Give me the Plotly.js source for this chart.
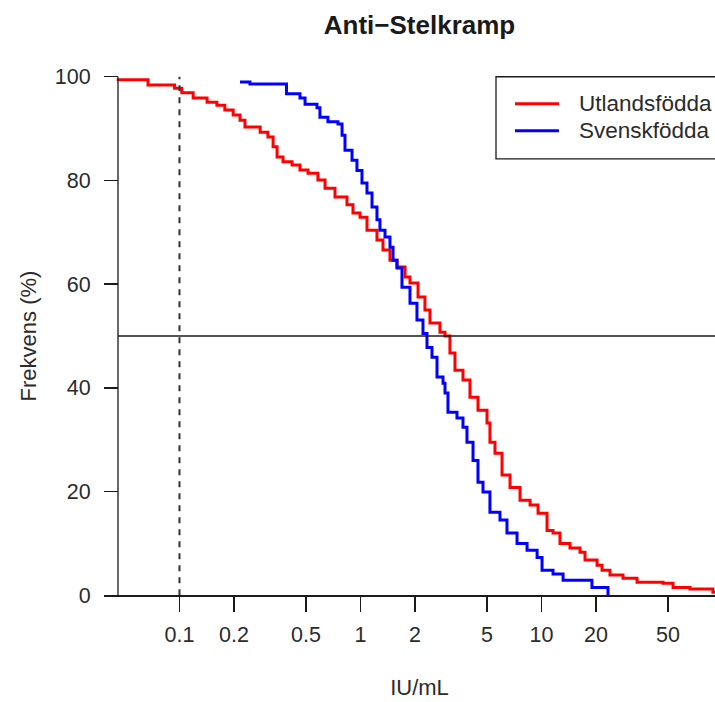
<!DOCTYPE html>
<html>
<head>
<meta charset="utf-8">
<script src="https://cdn.plot.ly/plotly-3.0.1.min.js"></script>
<style>
  html, body { margin: 0; padding: 0; overflow: hidden; background: #fff; }
  #chart { width: 740px; height: 702px; }
</style>
</head>
<body>
<div id="chart"></div>
<script>
// Survival-type curves: share of each group (%) with antibody level above a given IU/mL
const utlandsIU = [0.045, 0.067, 0.094, 0.103, 0.119, 0.142, 0.161, 0.178, 0.198, 0.216, 0.230, 0.279, 0.308, 0.329, 0.346, 0.373, 0.419, 0.463, 0.513, 0.582, 0.637, 0.723, 0.842, 0.909, 0.994, 1.086, 1.233, 1.331, 1.455, 1.591, 1.763, 1.877, 2.079, 2.270, 2.420, 2.748, 2.930, 3.120, 3.326, 3.683, 4.025, 4.458, 5.000, 5.190, 5.533, 6.053, 6.700, 7.610, 8.646, 9.57, 10.73, 11.58, 12.65, 14.37, 16.32, 17.39, 20.27, 21.6, 23.9, 28.2, 33.7, 46.9, 53.3, 66.1, 88.5, 120];
const utlandsPct = [99.4, 98.4, 97.8, 96.9, 95.9, 95.1, 94.5, 93.6, 92.6, 91.6, 90.3, 89.3, 88.4, 86.5, 84.5, 83.6, 83.0, 82.0, 81.4, 80.1, 78.5, 76.8, 75.3, 73.7, 72.9, 70.4, 68.5, 66.6, 64.6, 63.3, 61.4, 60.2, 57.5, 55.0, 52.5, 50.7, 50.0, 46.7, 43.4, 41.5, 38.2, 35.7, 33.2, 29.5, 27.4, 23.2, 20.8, 18.3, 17.4, 15.8, 12.5, 12.0, 10.0, 9.1, 8.3, 6.8, 5.8, 4.8, 3.9, 3.3, 2.5, 2.3, 1.5, 1.2, 0.6, 0.6];

const svenskIU = [0.216, 0.245, 0.390, 0.463, 0.494, 0.575, 0.597, 0.661, 0.751, 0.791, 0.821, 0.898, 0.956, 1.019, 1.086, 1.158, 1.233, 1.281, 1.366, 1.455, 1.513, 1.591, 1.695, 1.877, 2.051, 2.214, 2.330, 2.483, 2.647, 2.857, 2.930, 3.043, 3.412, 3.683, 3.875, 4.185, 4.458, 4.752, 5.190, 5.897, 6.446, 7.325, 8.322, 9.456, 10.07, 11.58, 13.16, 19.0, 23.3];
const svenskPct = [99.0, 98.6, 96.7, 95.9, 94.7, 94.0, 92.2, 91.3, 90.9, 88.7, 85.8, 83.9, 81.9, 79.5, 77.6, 74.9, 72.4, 70.4, 69.1, 67.1, 64.6, 63.1, 59.4, 56.3, 53.1, 50.5, 47.8, 45.9, 42.1, 40.9, 39.0, 35.3, 34.2, 32.4, 29.5, 26.0, 21.8, 19.9, 16.0, 14.5, 12.0, 10.0, 8.7, 7.3, 4.8, 4.1, 2.9, 1.5, 0];

const xTickVals = [0.1, 0.2, 0.5, 1, 2, 5, 10, 20, 50];
const xTickText = ['0.1', '0.2', '0.5', '1', '2', '5', '10', '20', '50'];
const yTickVals = [0, 20, 40, 60, 80, 100];

const seriesNames = ['Utlandsfödda', 'Svenskfödda'];
const seriesColors = ['#ff0000', '#0000ff'];
const referenceIU = 0.1;     // dashed reference level
const medianPct = 50;        // horizontal median line

const ink = '#1a1a1a';
const textInk = '#2b2b2b';
const font = 'Liberation Sans, Arial, Helvetica, sans-serif';

// plotting region in page pixels (used to place the framed key)
const plotL = 104, plotW = 631, plotBottom = 615.72, plotH = 559.44;
const px = v => (v - plotL) / plotW;
const py = v => (plotBottom - v) / plotH;

const yAxisPos = px(118);    // left axis sits slightly inside the plotting region
const xAxisPos = 4 / 108;    // bottom axis drawn at y = 0

const traces = seriesNames.map((name, i) => ({
  x: i === 0 ? utlandsIU : svenskIU,
  y: i === 0 ? utlandsPct : svenskPct,
  name: name,
  type: 'scatter', mode: 'lines',
  line: { color: seriesColors[i], width: 3, shape: 'hv' },
  showlegend: false,
  hoverinfo: 'skip'
}));

// framed key in the upper right
const keyRows = [104, 131];
const keyShapes = [
  { type: 'rect', xref: 'paper', yref: 'paper', x0: px(496), x1: px(760), y0: py(159), y1: py(77),
    line: { color: ink, width: 1.3 }, fillcolor: '#fff', layer: 'above' }
].concat(seriesNames.map((n, i) => ({
  type: 'line', xref: 'paper', yref: 'paper', x0: px(515), x1: px(559), y0: py(keyRows[i]), y1: py(keyRows[i]),
  line: { color: seriesColors[i], width: 3 }, layer: 'above'
})));
const keyLabels = seriesNames.map((n, i) => ({
  text: n, xref: 'paper', yref: 'paper', x: px(577), y: py(keyRows[i]),
  xanchor: 'left', yanchor: 'middle', showarrow: false,
  font: { family: font, size: 22.5, color: textInk }
}));

const layout = {
  width: 740, height: 702,
  margin: { l: plotL, r: 740 - plotL - plotW, t: 56.28, b: 702 - 56.28 - plotH, autoexpand: false },
  paper_bgcolor: '#fff', plot_bgcolor: '#fff',
  font: { family: font, color: textInk },
  showlegend: false,
  title: {
    text: '<b>Anti\u2212Stelkramp</b>',
    font: { family: font, size: 26, color: ink },
    xref: 'paper', x: 0.5, xanchor: 'center',
    yref: 'container', y: 1 - 25 / 702, yanchor: 'middle'
  },
  xaxis: {
    type: 'log',
    range: [-1.417, 2.069],
    anchor: 'free', position: xAxisPos,
    showgrid: false, zeroline: false,
    showline: true, linecolor: ink, linewidth: 1.3,
    ticks: 'outside', ticklen: 15, tickwidth: 1.3, tickcolor: ink,
    ticklabelstandoff: 5,
    tickvals: xTickVals, ticktext: xTickText,
    tickfont: { family: font, size: 21.5, color: textInk },
    title: { text: 'IU/mL', font: { family: font, size: 22, color: textInk }, standoff: 33 }
  },
  yaxis: {
    range: [-4, 104],
    anchor: 'free', position: yAxisPos,
    showgrid: false, zeroline: false, showline: false,
    ticks: 'outside', ticklen: 14, tickwidth: 1.3, tickcolor: ink,
    ticklabelstandoff: 9,
    tickvals: yTickVals,
    tickfont: { family: font, size: 21.5, color: textInk },
    title: { text: 'Frekvens (%)', font: { family: font, size: 22, color: textInk }, standoff: 11 }
  },
  shapes: [
    // left axis line, from 0 to 100 only
    { type: 'line', xref: 'paper', yref: 'y', x0: yAxisPos, x1: yAxisPos, y0: 0, y1: 100,
      line: { color: ink, width: 1.3 } },
    // median line
    { type: 'line', xref: 'paper', yref: 'y', x0: yAxisPos, x1: 1, y0: medianPct, y1: medianPct,
      line: { color: ink, width: 1.5 } },
    // reference level
    { type: 'line', xref: 'x', yref: 'y', x0: referenceIU, x1: referenceIU, y0: 0, y1: 100,
      line: { color: '#333', width: 2, dash: '6px,6px' } }
  ].concat(keyShapes),
  annotations: keyLabels
};

Plotly.newPlot('chart', traces, layout, { displayModeBar: false, staticPlot: true });
</script>
</body>
</html>
